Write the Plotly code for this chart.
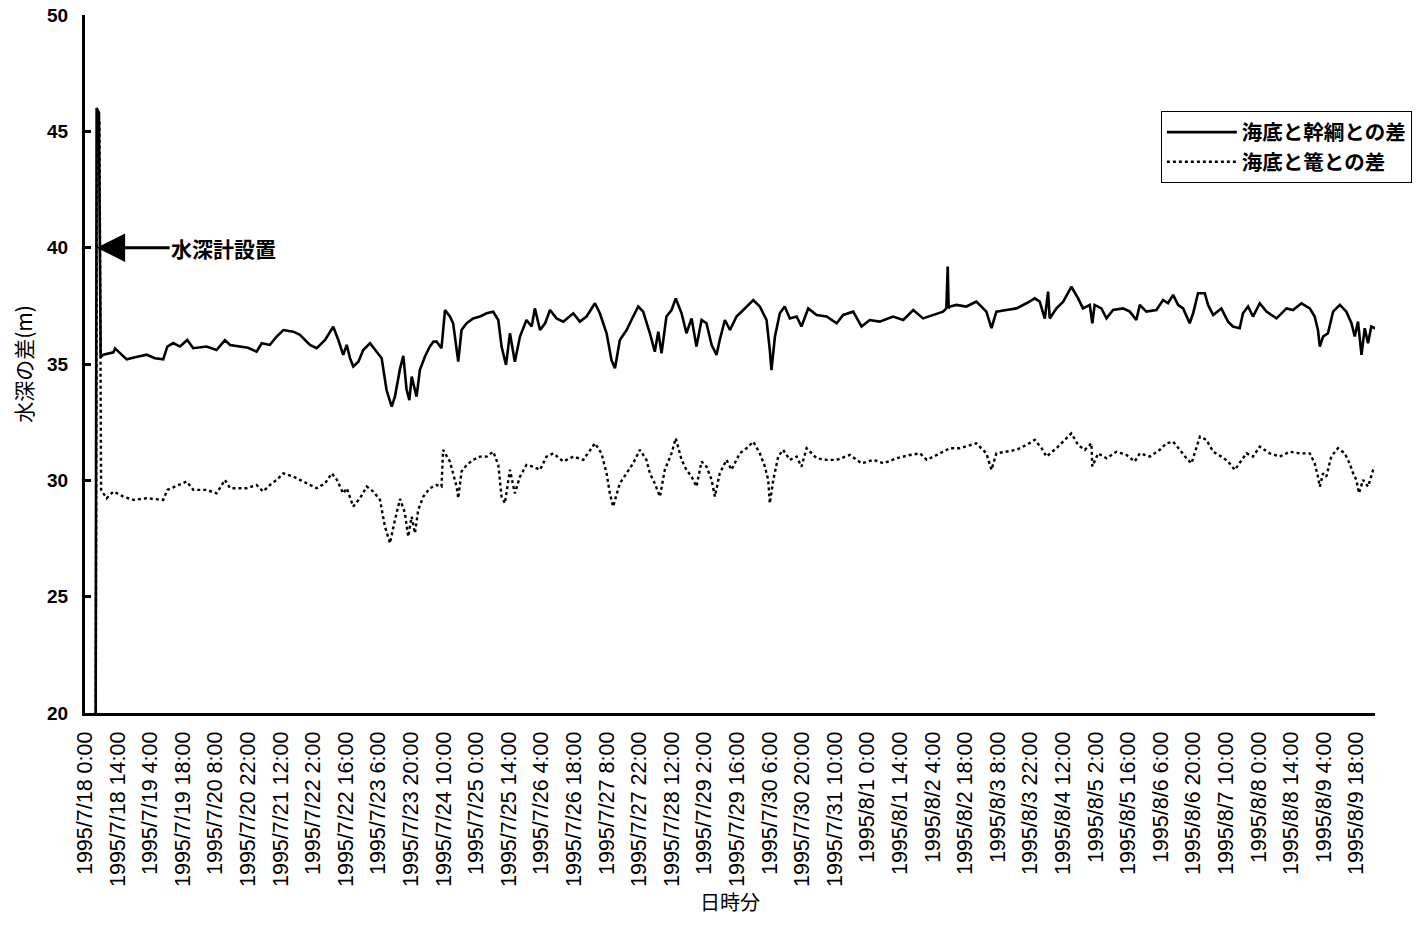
import pandas as pd
import plotly.graph_objects as go

START = pd.Timestamp("1995-07-18 00:00")

# hours elapsed since 1995/7/18 0:00 and depth difference (m): 海底と幹綱との差
hours_kan = [4.5, 5.0, 6.0, 6.73, 7.9, 12.2, 12.9, 17.9, 22.0, 26.5, 30.0, 33.6, 35.35, 37.9, 40.8,
             43.9, 46.5, 52.2, 56.5, 60.1, 62.3, 66.5, 70.0, 73.7, 75.9, 79.4, 82.3, 85.2, 89.5,
             92.3, 96.6, 99.5, 103.1, 106.6, 108.8, 110.9, 112.4, 113.8, 115.2, 117.4, 119.5,
             122.4, 125.2, 127.4, 129.5, 131.7, 133.1, 135.3, 136.7, 138.1, 139.3, 140.3, 141.7,
             142.4, 143.8, 146.0, 148.1, 149.6, 151.0, 153.1, 154.6, 156.7, 158.1, 160.3, 161.7,
             163.9, 166.7, 169.6, 172.5, 175.3, 177.5, 178.9, 180.8, 182.5, 184.6, 186.8, 189.6,
             191.8, 193.2, 195.4, 197.6, 199.7, 202.5, 205.4, 209.7, 212.5, 215.4, 219.0, 221.1,
             224.0, 226.1, 227.6, 229.7, 232.6, 235.4, 237.6, 239.7, 242.6, 244.7, 246.2, 247.6,
             249.7, 251.9, 253.7, 256.2, 258.3, 260.5, 262.6, 264.8, 266.9, 269.1, 271.2, 272.6,
             274.8, 277.0, 279.8, 282.7, 287.0, 289.8, 292.7, 294.1, 294.8, 296.3, 298.4, 300.5,
             302.7, 305.6, 307.7, 310.6, 314.2, 318.5, 322.8, 325.6, 329.9, 333.5, 337.0, 341.3,
             347.0, 351.4, 355.7, 359.9, 364.2, 368.5, 369.9, 370.5, 370.9, 371.4, 374.2, 378.5,
             382.8, 387.1, 389.3, 391.4, 395.7, 400.0, 404.3, 407.9, 410.0, 412.2, 413.6, 414.3,
             417.2, 420.1, 423.6, 426.5, 428.6, 431.5, 432.6, 433.6, 436.5, 438.7, 441.5, 445.8,
             448.7, 451.5, 453.0, 455.8, 460.1, 463.0, 465.1, 467.3, 469.4, 471.6, 474.4, 475.9,
             478.0, 480.9, 482.3, 484.5, 488.0, 490.9, 493.0, 495.9, 497.3, 499.5, 501.6, 504.5,
             507.4, 511.7, 516.0, 518.8, 522.4, 526.0, 528.1, 529.5, 530.3, 531.7, 533.8, 536.0,
             538.9, 541.7, 543.9, 545.3, 546.7, 548.2, 549.6, 551.0, 552.4, 553.9, 554.6]
depth_kan = [15.0, 46.0, 45.8, 35.3, 35.4, 35.5, 35.67, 35.2, 35.3, 35.4, 35.25, 35.2, 35.75, 35.9, 35.75,
             36.03, 35.68, 35.75, 35.6, 36.03, 35.82, 35.75, 35.7, 35.53, 35.89, 35.82, 36.18, 36.46, 36.39,
             36.25, 35.82, 35.68, 36.03, 36.6, 36.03, 35.39, 35.82, 35.25, 34.89, 35.1, 35.6,
             35.89, 35.53, 35.25, 33.88, 33.17, 33.6, 34.8, 35.35, 33.9, 33.45, 34.46, 33.88,
             33.6, 34.74, 35.32, 35.75, 35.96, 35.96, 35.68, 37.32, 37.04, 36.75, 35.10, 36.46,
             36.75, 36.96, 37.04, 37.18, 37.25, 36.89, 35.75, 34.96, 36.32, 35.10, 36.18, 36.89,
             36.61, 37.39, 36.46, 36.75, 37.32, 36.96, 36.82, 37.18, 36.82, 37.04, 37.61, 37.18,
             36.32, 35.17, 34.82, 36.03, 36.46, 37.04, 37.47, 37.25, 36.32, 35.53, 36.39, 35.46,
             37.04, 37.32, 37.82, 37.18, 36.32, 36.96, 35.75, 36.89, 36.75, 35.82, 35.39, 36.03,
             36.89, 36.46, 37.04, 37.32, 37.75, 37.47, 36.89, 35.60, 34.74, 36.18, 37.18, 37.47,
             36.96, 37.04, 36.61, 37.39, 37.11, 37.04, 36.75, 37.11, 37.25, 36.61, 36.89, 36.82,
             37.04, 36.89, 37.32, 36.96, 37.11, 37.25, 37.39, 39.19, 37.4, 37.47, 37.54, 37.47,
             37.68, 37.25, 36.54, 37.25, 37.32, 37.39, 37.61, 37.82, 37.68, 36.95, 38.11, 36.96,
             37.39, 37.68, 38.32, 37.82, 37.39, 37.54, 36.75, 37.54, 37.39, 36.96, 37.32, 37.39,
             37.25, 36.89, 37.54, 37.25, 37.32, 37.75, 37.61, 37.97, 37.54, 37.39, 36.75, 37.18,
             38.04, 38.04, 37.54, 37.11, 37.39, 36.82, 36.61, 36.54, 37.18, 37.47, 37.04, 37.61,
             37.25, 36.96, 37.39, 37.32, 37.61, 37.39, 37.04, 36.46, 35.75, 36.18, 36.32, 37.25,
             37.54, 37.25, 36.75, 36.18, 36.82, 35.39, 36.54, 35.89, 36.61, 36.54, 36.6]

# 海底と篭との差
hours_kago = [4.5, 5.2, 6.2, 6.9, 7.9, 9.3, 12.2, 16.5, 20.8, 26.5, 33.6, 35.35, 37.9, 43.65, 46.5,
              52.2, 56.5, 60.1, 62.3, 69.3, 73.7, 76.5, 79.4, 82.3, 85.2, 89.5, 92.3, 96.6, 99.5,
              103.1, 106.0, 108.2, 110.9, 112.4, 115.2, 118.1, 121.0, 123.8, 126.7, 128.8, 131.0,
              133.1, 135.3, 137.4, 138.8, 140.3, 141.7, 143.1, 145.3, 148.1, 151.0, 153.1, 153.8,
              156.7, 159.6, 160.3, 161.7, 163.9, 166.7, 169.6, 172.5, 175.3, 177.5, 178.9, 180.3,
              182.5, 184.6, 186.8, 189.6, 192.5, 195.4, 198.2, 201.1, 205.4, 209.7, 214.0, 219.0,
              221.8, 224.0, 225.4, 226.8, 229.7, 232.6, 235.4, 238.3, 241.1, 242.6, 244.7, 246.9,
              249.0, 251.9, 253.7, 256.2, 258.3, 260.5, 262.6, 264.8, 266.9, 269.1, 270.5, 272.6,
              275.5, 277.6, 281.2, 284.1, 287.0, 289.8, 292.0, 293.4, 294.1, 295.6, 297.7, 299.8,
              302.7, 305.6, 307.7, 309.9, 314.2, 318.5, 322.8, 328.5, 333.5, 338.6, 342.9, 348.6,
              354.3, 358.6, 361.5, 367.2, 371.4, 375.7, 380.0, 382.8, 387.1, 389.3, 391.4, 395.7,
              400.0, 404.3, 407.9, 410.8, 412.9, 417.2, 420.8, 423.6, 426.5, 429.4, 432.2, 432.6,
              435.1, 438.7, 443.0, 447.3, 450.8, 453.0, 457.3, 461.6, 464.4, 467.3, 470.2, 473.0,
              475.2, 476.6, 478.8, 481.6, 484.5, 488.0, 490.9, 493.8, 495.9, 498.8, 501.6, 504.5,
              508.8, 513.1, 517.4, 521.7, 526.0, 528.1, 529.5, 530.3, 531.7, 533.1, 535.2, 538.1,
              541.0, 543.1, 544.6, 546.0, 547.1, 548.9, 551.0, 553.2, 554.6]
depth_kago = [15.0, 45.8, 45.5, 29.6, 29.44, 29.23, 29.52, 29.3, 29.16, 29.23, 29.16, 29.59, 29.7, 29.95, 29.59,
              29.59, 29.44, 30.02, 29.66, 29.66, 29.8, 29.52, 29.8, 30.02, 30.3, 30.16, 30.02, 29.8, 29.66,
              29.87, 30.3, 30.02, 29.44, 29.66, 28.87, 29.23, 29.73, 29.52, 29.16, 28.01, 27.3,
              28.3, 29.2, 28.59, 27.58, 28.44, 27.73, 28.73, 29.30, 29.66, 29.80, 29.73, 31.31,
              30.81, 29.73, 29.23, 30.38, 30.66, 30.88, 31.02, 31.02, 31.23, 30.66, 29.30, 29.01,
              30.45, 29.44, 30.16, 30.66, 30.59, 30.45, 31.02, 31.16, 30.81, 31.02, 30.88, 31.59,
              31.16, 30.30, 29.44, 28.87, 29.87, 30.30, 30.73, 31.31, 30.88, 30.30, 29.87, 29.30,
              30.45, 31.16, 31.81, 30.88, 30.45, 30.16, 29.73, 30.81, 30.59, 30.02, 29.30, 30.30,
              30.88, 30.45, 31.16, 31.38, 31.66, 31.16, 30.59, 30.02, 29.01, 30.02, 31.02, 31.31,
              30.88, 31.02, 30.59, 31.38, 30.95, 30.88, 30.88, 31.09, 30.73, 30.88, 30.73, 30.95,
              31.09, 31.16, 30.88, 31.16, 31.38, 31.38, 31.52, 31.59, 31.16, 30.45, 31.16, 31.23,
              31.31, 31.52, 31.74, 31.38, 31.02, 31.38, 31.74, 32.02, 31.52, 31.31, 31.59, 30.6,
              31.16, 30.95, 31.23, 31.09, 30.81, 31.16, 31.02, 31.31, 31.59, 31.66, 31.31, 30.95,
              30.73, 31.16, 31.88, 31.74, 31.23, 31.02, 30.81, 30.45, 30.73, 31.16, 31.02, 31.45,
              31.16, 31.02, 31.23, 31.16, 31.16, 30.73, 30.16, 29.73, 30.30, 30.16, 31.02, 31.38,
              31.16, 30.73, 30.30, 30.02, 29.45, 30.02, 29.73, 30.45, 30.6]

y_ticks = [20, 25, 30, 35, 40, 45, 50]
install_hour = 5.0
x_end_hour = 554.0

def to_time(hours):
    return START + pd.to_timedelta(pd.Series(hours), unit="h")

FONT = "Liberation Sans, Arial, Noto Sans CJK JP"
JP = "Noto Sans CJK JP, Liberation Sans"

fig = go.Figure()
fig.add_trace(go.Scatter(x=to_time(hours_kan), y=depth_kan, mode="lines", name="海底と幹綱との差",
                         line=dict(color="black", width=2.6)))
fig.add_trace(go.Scatter(x=to_time(hours_kago), y=depth_kago, mode="lines", name="海底と篭との差",
                         line=dict(color="black", width=2.4, dash="dot")))

fig.add_annotation(x=START + pd.Timedelta(hours=install_hour), y=40, xref="x", yref="y",
                   text="水深計設置", showarrow=True, ax=127, ay=0,
                   arrowhead=2, arrowsize=1.9, arrowwidth=3, arrowcolor="black",
                   font=dict(family=JP, size=21, color="black", weight="bold"))

fig.update_layout(
    width=1416, height=926,
    margin=dict(l=85, r=41, t=15, b=213, autoexpand=False),
    paper_bgcolor="white", plot_bgcolor="white",
    showlegend=True,
    legend=dict(x=0.834, y=0.862, xanchor="left", yanchor="top",
                bordercolor="black", borderwidth=1, bgcolor="white",
                font=dict(family=JP, size=20.5, color="black", weight="bold"),
                itemwidth=70, tracegroupgap=0),
)
fig.update_xaxes(
    type="date",
    range=[START, START + pd.Timedelta(hours=x_end_hour)],
    tick0=START, dtick=14 * 3600 * 1000,
    tickformat="%Y/%-m/%-d %-H:%M", tickangle=-90,
    tickfont=dict(family=FONT, size=21.5, color="black"),
    ticklabelstandoff=7,
    showline=True, linecolor="black", linewidth=3,
    showgrid=False, zeroline=False, ticks="",
    title=dict(text="日時分", font=dict(family=JP, size=20, color="black"), standoff=10),
)
fig.update_yaxes(
    range=[20, 50], tickvals=y_ticks,
    tickfont=dict(family=FONT, size=19, color="black", weight="bold"),
    ticklabelstandoff=10,
    showline=True, linecolor="black", linewidth=3,
    ticks="inside", ticklen=6, tickwidth=3, tickcolor="black",
    showgrid=False, zeroline=False,
    title=dict(text="水深の差(m)", font=dict(family=JP, size=21, color="black"), standoff=9),
)

fig.write_html("out.html")
